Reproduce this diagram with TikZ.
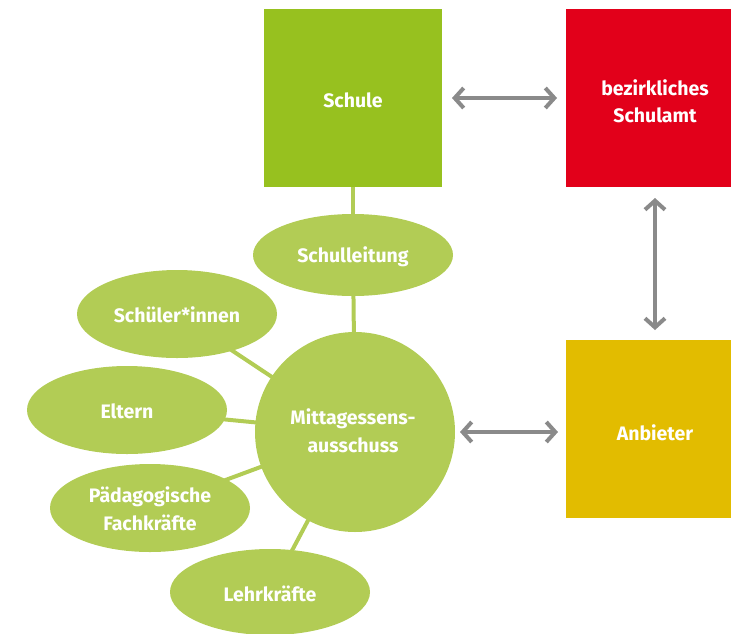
\documentclass[tikz,border=0pt]{standalone}
\usepackage{fontspec}
\setmainfont{Fira Sans}
\usetikzlibrary{arrows.meta}
\definecolor{schgreen}{HTML}{97C11F}
\definecolor{amtred}{HTML}{E2001A}
\definecolor{anbyellow}{HTML}{E2BC00}
\definecolor{ellgreen}{HTML}{B2CC55}
\definecolor{arrgray}{HTML}{8A8A8A}
\begin{document}
\begin{tikzpicture}[x=1pt,y=-1pt,
  lbl/.style={text=white, align=center, inner sep=0pt, font=\bfseries\fontsize{19.5}{28}\selectfont},
  conn/.style={draw=ellgreen, line width=4pt},
  dbl/.style={draw=arrgray, line width=4pt, {Straight Barb[length=9pt,width=20pt,line width=4pt]}-{Straight Barb[length=9pt,width=20pt,line width=4pt]}}
]
\useasboundingbox (0,0) rectangle (731,633);
% boxes
\fill[schgreen] (264,9) rectangle (442,187);
\fill[amtred] (566,9) rectangle (731,187);
\fill[anbyellow] (566,340) rectangle (731,518);
\node[lbl] (schule) at (353,100) {Schule};
\node[lbl, font=\bfseries\fontsize{19.5}{27}\selectfont] (amt) at (655,101) {bezirkliches\\Schulamt};
\node[lbl] (anb) at (655,433) {Anbieter};
\coordinate (schuleB) at (353,187);
\coordinate (schuleR) at (452,98);
\coordinate (amtL) at (557,98);
\coordinate (amtB) at (655,198);
\coordinate (anbT) at (655,330);
\coordinate (anbL) at (558,432);
% connectors (behind ellipses)
\coordinate (sl) at (353,255);
\coordinate (mit) at (355,432);
\coordinate (schu) at (177,314);
\coordinate (elt) at (127,410);
\coordinate (pad) at (150,508);
\coordinate (lehr) at (270,592);
\draw[conn] (schuleB) -- (sl);
\draw[conn] (sl) -- (mit);
\draw[conn] (schu) -- (mit);
\draw[conn] (elt) -- (mit);
\draw[conn] (pad) -- (mit);
\draw[conn] (lehr) -- (mit);
% ellipses
\fill[ellgreen] (sl) ellipse [x radius=100, y radius=41];
\fill[ellgreen] (mit) circle [radius=100];
\fill[ellgreen] (schu) ellipse [x radius=100, y radius=44];
\fill[ellgreen] (elt) ellipse [x radius=100, y radius=44];
\fill[ellgreen] (pad) ellipse [x radius=100, y radius=44];
\fill[ellgreen] (lehr) ellipse [x radius=100, y radius=43];
\node[lbl] (slT) at (353,257) {Schulleitung};
\node[lbl] (mitT) at (353,431) {Mittagessens-\\ausschuss};
\node[lbl] (schuT) at (177,315) {Schüler*innen};
\node[lbl] (eltT) at (127,411) {Eltern};
\node[lbl] (padT) at (150,509) {Pädagogische\\Fachkräfte};
\node[lbl] (lehrT) at (270,594) {Lehrkräfte};
% arrows
\draw[dbl] (schuleR) -- (amtL);
\draw[dbl] (amtB) -- (anbT);
\coordinate (mitR) at (460,432);
\draw[dbl] (mitR) -- (anbL);
\end{tikzpicture}
\end{document}
